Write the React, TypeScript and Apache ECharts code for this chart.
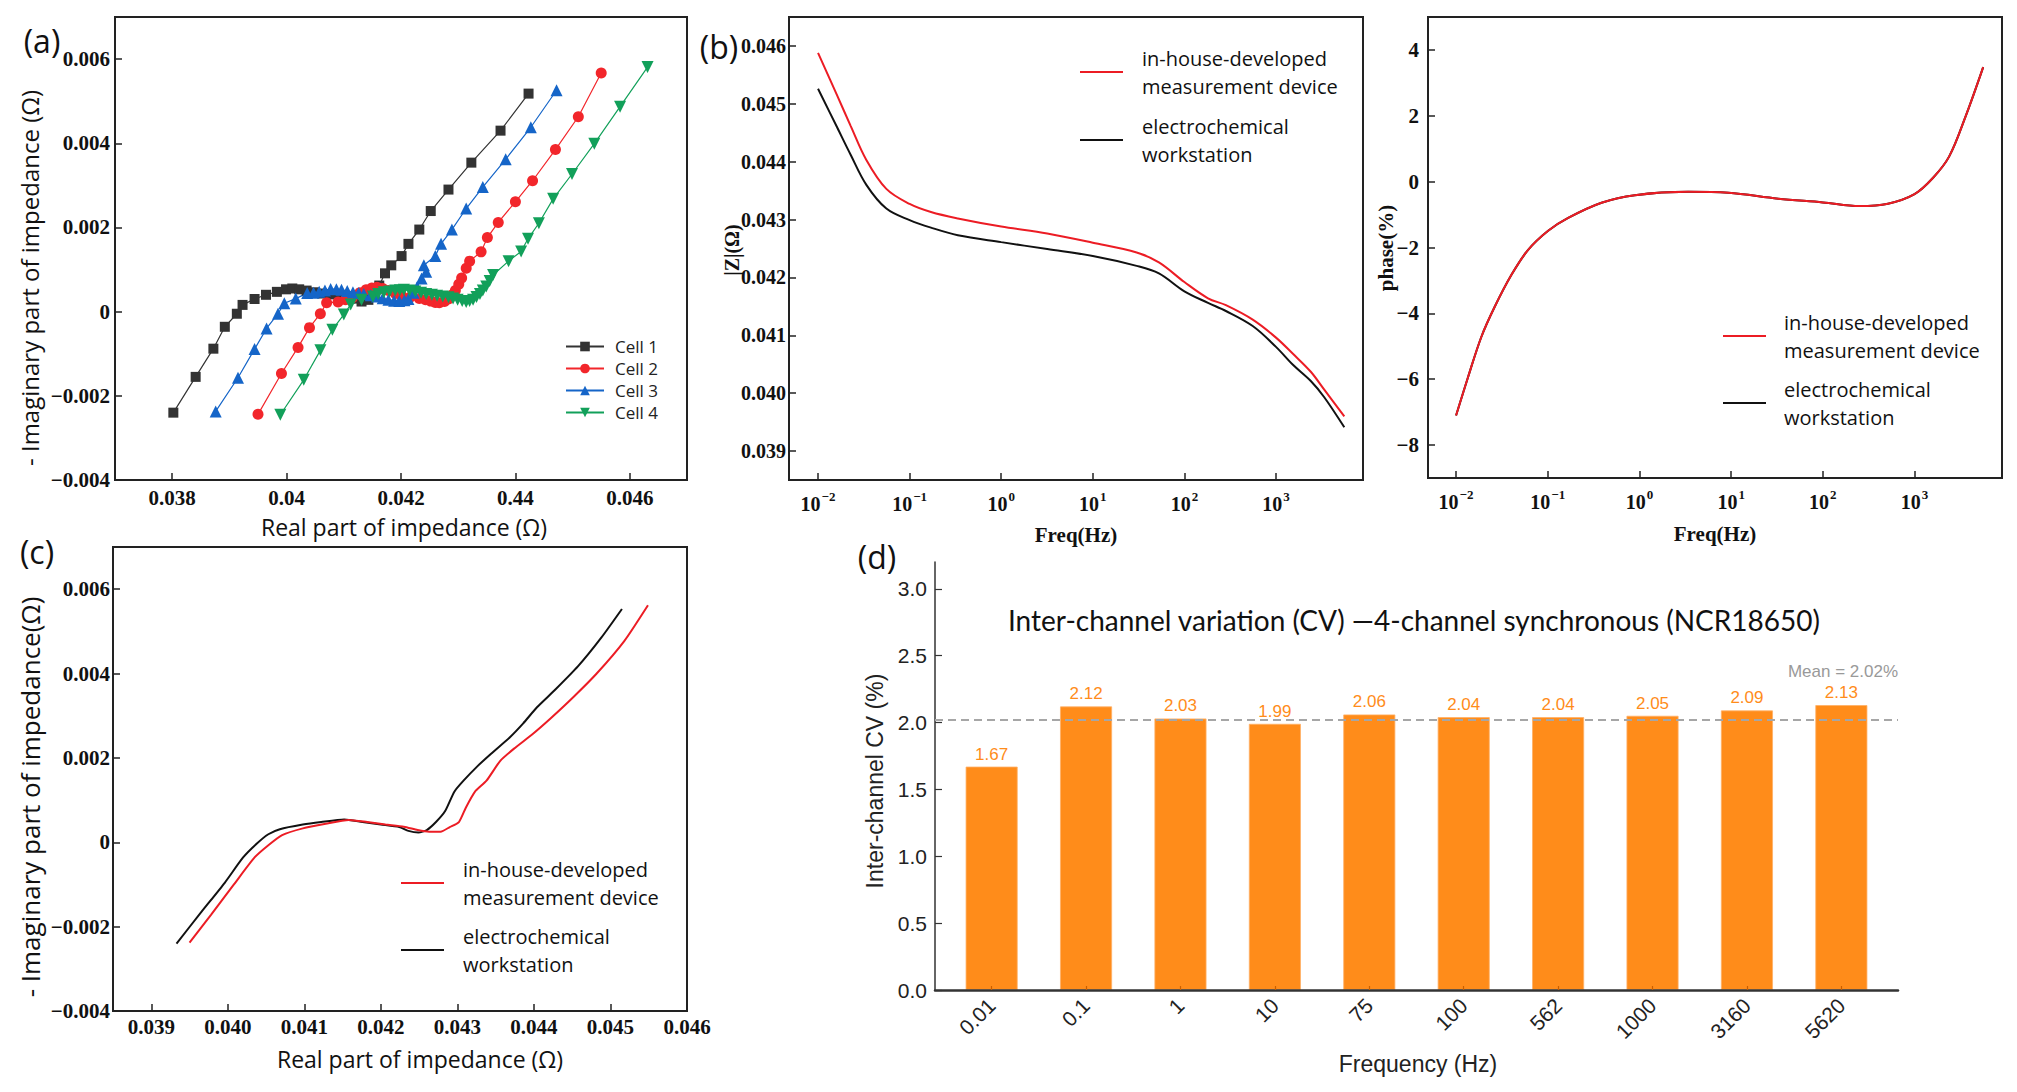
import React, { useEffect, useRef } from "react";
import * as echarts from "echarts";

// ---------- Panel (a): Nyquist plots of four cells ----------
const CELL_NAMES = ["Cell 1", "Cell 2", "Cell 3", "Cell 4"];
const CELL1 = [[0.03802,-0.0024],[0.03841,-0.00155],[0.03872,-0.00088],[0.03892,-0.00036],[0.03913,-0.00005],[0.03923,0.00016],[0.03944,0.0003],[0.03964,0.0004],[0.03983,0.00047],[0.03999,0.00053],[0.0401,0.00055],[0.04022,0.00053],[0.04035,0.0005],[0.04048,0.00046],[0.04062,0.00043],[0.04078,0.00041],[0.04092,0.00039],[0.04106,0.00036],[0.04118,0.00031],[0.04131,0.00024],[0.04143,0.00028],[0.04152,0.00042],[0.04162,0.00062],[0.04172,0.00091],[0.04183,0.0011],[0.04201,0.00132],[0.04213,0.00161],[0.04232,0.00195],[0.04252,0.00239],[0.04283,0.0029],[0.04323,0.00354],[0.04374,0.0043],[0.04423,0.00518]];
const CELL2 = [[0.0395,-0.00244],[0.03991,-0.00147],[0.0402,-0.00085],[0.0404,-0.00038],[0.04059,-0.00005],[0.0407,0.00021],[0.0409,0.00023],[0.04103,0.00028],[0.04115,0.00033],[0.04128,0.00045],[0.04139,0.00052],[0.04149,0.00056],[0.04158,0.00058],[0.04168,0.00055],[0.04178,0.0005],[0.0419,0.00043],[0.04201,0.00038],[0.04216,0.00034],[0.04232,0.00031],[0.04243,0.00028],[0.04252,0.00025],[0.0426,0.00022],[0.04267,0.00021],[0.04276,0.00024],[0.04283,0.0003],[0.0429,0.0004],[0.04295,0.0005],[0.04301,0.00065],[0.04306,0.0008],[0.04314,0.00103],[0.0432,0.0012],[0.0434,0.00142],[0.04351,0.00176],[0.0437,0.00212],[0.044,0.00261],[0.0443,0.00311],[0.0447,0.00385],[0.0451,0.00463],[0.0455,0.00567]];
const CELL3 = [[0.03876,-0.00237],[0.03915,-0.00157],[0.03944,-0.00089],[0.03965,-0.0004],[0.03985,-0.00005],[0.03996,0.0002],[0.04016,0.00031],[0.04036,0.00044],[0.04047,0.00045],[0.04057,0.00047],[0.04067,0.0005],[0.04077,0.00054],[0.04087,0.00053],[0.04096,0.00052],[0.04106,0.00049],[0.04116,0.00046],[0.04126,0.00044],[0.04135,0.00042],[0.04147,0.00039],[0.04158,0.00036],[0.04168,0.00032],[0.04178,0.00028],[0.04188,0.00026],[0.04197,0.00025],[0.04206,0.00027],[0.04213,0.0003],[0.04222,0.00045],[0.04228,0.00058],[0.04236,0.00079],[0.04244,0.00095],[0.0424,0.0011],[0.0426,0.00132],[0.0427,0.00161],[0.04289,0.00195],[0.04314,0.00245],[0.04343,0.00296],[0.04383,0.00362],[0.04427,0.00438],[0.04472,0.00526]];
const CELL4 = [[0.03989,-0.00245],[0.0403,-0.00162],[0.04059,-0.00092],[0.0408,-0.00043],[0.041,-0.00007],[0.04112,0.00017],[0.04131,0.00028],[0.04151,0.00036],[0.0416,0.00042],[0.0417,0.00046],[0.0418,0.00048],[0.0419,0.0005],[0.04198,0.00051],[0.04205,0.00052],[0.04215,0.0005],[0.04225,0.00048],[0.04235,0.00045],[0.04244,0.00042],[0.04254,0.0004],[0.04263,0.00038],[0.04273,0.00036],[0.04283,0.00034],[0.04291,0.00031],[0.04299,0.00028],[0.04307,0.00025],[0.04314,0.00023],[0.0432,0.00025],[0.04326,0.00028],[0.04332,0.00035],[0.04338,0.00042],[0.04343,0.0005],[0.04349,0.0006],[0.04355,0.00073],[0.04361,0.00087],[0.04388,0.0012],[0.0441,0.00143],[0.04422,0.00173],[0.04441,0.0021],[0.04466,0.00268],[0.04499,0.00327],[0.04538,0.00399],[0.04583,0.00487],[0.04631,0.00581]];
const A_X_TICKS = [0.038, 0.040, 0.042, 0.044, 0.046];
const A_X_LABELS = ["0.038", "0.04", "0.042", "0.44", "0.046"];
const A_Y_TICKS = [-0.004, -0.002, 0, 0.002, 0.004, 0.006];
const A_Y_LABELS = ["\u22120.004", "\u22120.002", "0", "0.002", "0.004", "0.006"];

// ---------- Panel (b): |Z| and phase vs frequency ----------
const SERIES_NAMES = ["in-house-developed measurement device", "electrochemical workstation"];
const FREQ_B = [0.01, 0.0162, 0.0227, 0.0337, 0.0557, 0.1, 0.171, 0.336, 1, 3.18, 10, 30.1, 52.7, 100, 181, 284, 557, 1000, 1531, 2399, 3365, 5570];
const ZMOD_DEVICE = [0.04588, 0.04514, 0.04462, 0.04403, 0.04353, 0.04327, 0.04313, 0.04302, 0.04288, 0.04276, 0.0426, 0.04243, 0.04226, 0.04192, 0.04164, 0.04152, 0.04127, 0.04096, 0.04068, 0.04037, 0.04006, 0.0396];
const ZMOD_WORKSTATION = [0.04526, 0.04459, 0.04412, 0.0436, 0.04319, 0.04299, 0.04286, 0.04273, 0.04261, 0.04249, 0.04237, 0.0422, 0.04207, 0.04176, 0.04156, 0.04142, 0.04116, 0.0408, 0.04049, 0.04021, 0.03993, 0.03941];
const B_Y_TICKS = [0.039, 0.040, 0.041, 0.042, 0.043, 0.044, 0.045, 0.046];
const LOG_TICKS = [-2, -1, 0, 1, 2, 3];
const FREQ_P = [0.01, 0.0135, 0.0189, 0.0264, 0.0402, 0.0611, 0.101, 0.167, 0.386, 0.891, 3.41, 9.33, 32.7, 100, 251, 513, 1000, 1585, 2382, 3581, 5610];
const PHASE_DEVICE = [-7.1, -5.94, -4.71, -3.8, -2.83, -2.07, -1.49, -1.1, -0.64, -0.41, -0.31, -0.34, -0.52, -0.63, -0.74, -0.67, -0.38, 0.11, 0.76, 1.96, 3.48];
const PHASE_WORKSTATION = [-7.1, -5.94, -4.71, -3.8, -2.83, -2.07, -1.49, -1.1, -0.64, -0.41, -0.31, -0.34, -0.52, -0.63, -0.74, -0.67, -0.38, 0.11, 0.76, 1.96, 3.48];
const PHASE_TICKS = [-8, -6, -4, -2, 0, 2, 4];

// ---------- Panel (c): Nyquist comparison ----------
const C_WORKSTATION = [[0.03933,-0.0024],[0.03966,-0.00164],[0.03996,-0.00096],[0.0402,-0.00036],[0.04038,-0.00003],[0.04053,0.00019],[0.04068,0.00031],[0.04098,0.00042],[0.04122,0.00048],[0.04152,0.00054],[0.04176,0.00048],[0.042,0.00042],[0.04224,0.00036],[0.04236,0.00027],[0.04249,0.00023],[0.0426,0.00029],[0.04272,0.00048],[0.04284,0.00074],[0.04296,0.0012],[0.04308,0.00146],[0.04326,0.0018],[0.04344,0.0021],[0.04368,0.00248],[0.04386,0.00282],[0.04404,0.0032],[0.04428,0.00362],[0.04458,0.00418],[0.04488,0.00485],[0.04515,0.00553]];
const C_DEVICE = [[0.0395,-0.00238],[0.03978,-0.00172],[0.04008,-0.001],[0.04035,-0.00036],[0.04053,-0.00007],[0.04071,0.00017],[0.04098,0.00033],[0.04128,0.00044],[0.04158,0.00053],[0.04182,0.00048],[0.04206,0.00042],[0.0423,0.00037],[0.04248,0.00029],[0.04263,0.00025],[0.04278,0.00025],[0.0429,0.00036],[0.04302,0.00048],[0.04311,0.00082],[0.04323,0.0012],[0.04338,0.00146],[0.04356,0.00193],[0.04374,0.00222],[0.04398,0.00256],[0.04422,0.00294],[0.04452,0.00345],[0.04482,0.004],[0.04518,0.00477],[0.04549,0.00562]];
const C_X_TICKS = [0.039, 0.040, 0.041, 0.042, 0.043, 0.044, 0.045, 0.046];

// ---------- Panel (d): inter-channel CV ----------
const CV_FREQS = ["0.01", "0.1", "1", "10", "75", "100", "562", "1000", "3160", "5620"];
const CV_VALUES = [1.67, 2.12, 2.03, 1.99, 2.06, 2.04, 2.04, 2.05, 2.09, 2.13];
const CV_MEAN = 2.02;
const D_Y_TICKS = [0, 0.5, 1.0, 1.5, 2.0, 2.5, 3.0];

const SERIF = "Liberation Serif";
const SANS = "Open Sans";
const ARIAL = "Liberation Sans";
const RED = "#ec1c24";
const BLACK = "#111111";

const minus = (s: string) => s.replace("-", "\u2212");
const pick = (ticks: number[], labels: string[]) => (v: number) => {
  const i = ticks.findIndex((t) => Math.abs(t - v) < 1e-9);
  return i >= 0 ? labels[i] : "";
};

function boxAxis(gridIndex: number, min: number, max: number, ticks: number[], formatter: any, o: any = {}) {
  return {
    type: "value",
    gridIndex,
    min,
    max,
    axisLine: { show: true, onZero: false, lineStyle: { color: "#222", width: 2 } },
    axisTick: { show: true, inside: true, length: 7, customValues: ticks, lineStyle: { color: "#222", width: 1.5 } },
    axisLabel: {
      customValues: ticks,
      formatter,
      fontFamily: SERIF,
      fontWeight: "bold",
      fontSize: o.fontSize || 21,
      color: "#111",
      margin: o.margin ?? 6,
      rich: o.rich,
    },
    splitLine: { show: false },
  };
}

const supRich = {
  b: { fontFamily: SERIF, fontWeight: "bold", fontSize: 20, color: "#111", lineHeight: 24, verticalAlign: "bottom" },
  s: { fontFamily: SERIF, fontWeight: "bold", fontSize: 13, color: "#111", lineHeight: 24, verticalAlign: "top", padding: [0, 0, 0, 1] },
};
const supFmt = (v: number) => `{b|10}{s|${minus(String(Math.round(v)))}}`;

function txt(text: string, x: number, y: number, o: any = {}) {
  return {
    type: "text",
    x,
    y,
    rotation: o.rot || 0,
    style: {
      text,
      fill: o.color || "#111",
      fontSize: o.size || 24,
      fontFamily: o.family || SANS,
      fontWeight: o.weight || "normal",
      textAlign: o.align || "center",
      textVerticalAlign: "middle",
      align: o.align || "center",
      verticalAlign: "middle",
      lineHeight: o.lh,
    },
  };
}
function seg(x1: number, x2: number, y: number, color: string) {
  return { type: "line", shape: { x1, y1: y, x2, y2: y }, style: { stroke: color, lineWidth: 2 } };
}
function legendPair(lx: number, tx: number, y1: number, y2: number) {
  return [
    seg(lx, lx + 43, y1, RED),
    txt("in-house-developed\nmeasurement device", tx, y1, { align: "left", size: 20, lh: 28 }),
    seg(lx, lx + 43, y2, BLACK),
    txt("electrochemical\nworkstation", tx, y2, { align: "left", size: 20, lh: 28 }),
  ];
}

function buildOption() {
  const cellColors = ["#333333", "#f2262b", "#1565c8", "#12a05a"];
  const cellSymbols = ["rect", "circle", "triangle", "triangle"];
  const cells = [CELL1, CELL2, CELL3, CELL4];
  const logMap = (freqs: number[], vals: number[]) => freqs.map((f, i) => [Math.log10(f), vals[i]]);
  const smoothLine = (name: string, xi: number, data: any[], color: string) => ({
    name,
    type: "line",
    xAxisIndex: xi,
    yAxisIndex: xi,
    data,
    smooth: 0.35,
    showSymbol: false,
    symbol: "none",
    lineStyle: { color, width: 2 },
    itemStyle: { color },
  });

  return {
    animation: false,
    backgroundColor: "#ffffff",
    grid: [
      { left: 115, top: 17, width: 572, height: 463, show: true, borderColor: "#222", borderWidth: 2 },
      { left: 789, top: 17, width: 574, height: 463, show: true, borderColor: "#222", borderWidth: 2 },
      { left: 1428, top: 17, width: 574, height: 461, show: true, borderColor: "#222", borderWidth: 2 },
      { left: 113, top: 547, width: 574, height: 464, show: true, borderColor: "#222", borderWidth: 2 },
      { left: 935, top: 562, width: 963, height: 428, show: false },
    ],
    xAxis: [
      boxAxis(0, 0.037, 0.047, A_X_TICKS, pick(A_X_TICKS, A_X_LABELS), { margin: 7 }),
      boxAxis(1, -2.317, 3.95, LOG_TICKS, supFmt, { margin: 10, rich: supRich, fontSize: 20 }),
      boxAxis(2, -2.306, 3.954, LOG_TICKS, supFmt, { margin: 10, rich: supRich, fontSize: 20 }),
      boxAxis(3, 0.0385, 0.046, C_X_TICKS, (v: number) => v.toFixed(3), { margin: 5 }),
      {
        type: "value",
        gridIndex: 4,
        min: -0.6,
        max: 9.6,
        z: 3,
        axisLine: { show: true, onZero: false, lineStyle: { color: "#333", width: 2.5 } },
        axisTick: { show: true, inside: true, length: 4, customValues: CV_FREQS.map((_, i) => i), lineStyle: { color: "#c85f00", width: 1.2 } },
        axisLabel: {
          customValues: CV_FREQS.map((_, i) => i),
          formatter: (v: number) => CV_FREQS[Math.round(v)] ?? "",
          rotate: 45,
          fontFamily: ARIAL,
          fontSize: 21,
          color: "#222",
          margin: 12,
        },
        splitLine: { show: false },
      },
    ],
    yAxis: [
      boxAxis(0, -0.004, 0.007, A_Y_TICKS, pick(A_Y_TICKS, A_Y_LABELS), { margin: 5 }),
      boxAxis(1, 0.0385, 0.0465, B_Y_TICKS, (v: number) => v.toFixed(3), { margin: 3, fontSize: 20 }),
      boxAxis(2, -9, 5, PHASE_TICKS, (v: number) => minus(String(v)), { margin: 9, fontSize: 21 }),
      boxAxis(3, -0.004, 0.007, A_Y_TICKS, pick(A_Y_TICKS, A_Y_LABELS), { margin: 3 }),
      {
        type: "value",
        gridIndex: 4,
        min: 0,
        max: 3.2,
        axisLine: { show: true, onZero: false, lineStyle: { color: "#333", width: 1.5 } },
        axisTick: { show: true, inside: true, length: 7, customValues: D_Y_TICKS, lineStyle: { color: "#333", width: 1.2 } },
        axisLabel: {
          customValues: D_Y_TICKS,
          formatter: (v: number) => v.toFixed(1),
          fontFamily: ARIAL,
          fontSize: 21,
          color: "#222",
          margin: 8,
        },
        splitLine: { show: false },
      },
    ],
    legend: [
      {
        data: CELL_NAMES,
        orient: "vertical",
        left: 560,
        top: 333,
        itemWidth: 38,
        itemHeight: 12,
        itemGap: 5,
        selectedMode: false,
        textStyle: { fontFamily: SANS, fontSize: 17, color: "#222", padding: [0, 0, 0, 6] },
      },
    ],
    series: [
      ...cells.map((data, k) => ({
        name: CELL_NAMES[k],
        type: "line",
        xAxisIndex: 0,
        yAxisIndex: 0,
        data,
        symbol: cellSymbols[k],
        symbolRotate: k === 3 ? 180 : 0,
        symbolSize: k === 0 ? 10 : k === 1 ? 11 : 12,
        lineStyle: { color: cellColors[k], width: 1.2 },
        itemStyle: { color: cellColors[k] },
      })),
      smoothLine(SERIES_NAMES[1], 1, logMap(FREQ_B, ZMOD_WORKSTATION), BLACK),
      smoothLine(SERIES_NAMES[0], 1, logMap(FREQ_B, ZMOD_DEVICE), RED),
      smoothLine(SERIES_NAMES[1], 2, logMap(FREQ_P, PHASE_WORKSTATION), BLACK),
      smoothLine(SERIES_NAMES[0], 2, logMap(FREQ_P, PHASE_DEVICE), RED),
      { ...smoothLine(SERIES_NAMES[1], 3, C_WORKSTATION, BLACK), smooth: 0.2 },
      { ...smoothLine(SERIES_NAMES[0], 3, C_DEVICE, RED), smooth: 0.2 },
      {
        name: "Inter-channel CV",
        type: "bar",
        xAxisIndex: 4,
        yAxisIndex: 4,
        data: CV_VALUES.map((v, i) => [i, v]),
        barWidth: 52,
        itemStyle: { color: "#ff8c1a", borderColor: "#ffb066", borderWidth: 0.8 },
        label: {
          show: true,
          position: "top",
          distance: 4,
          formatter: (p: any) => p.value[1].toFixed(2),
          fontFamily: ARIAL,
          fontSize: 17,
          color: "#ff8c1a",
        },
        markLine: {
          silent: true,
          symbol: "none",
          data: [{ yAxis: CV_MEAN }],
          lineStyle: { color: "#a6a6a6", type: [8, 5], width: 2 },
          label: { show: false },
        },
      },
    ],
    graphic: [
      // panel labels
      txt("(a)", 42, 40, { size: 32 }),
      txt("(b)", 719, 46, { size: 32 }),
      txt("(c)", 37, 551, { size: 32 }),
      txt("(d)", 877, 556, { size: 32 }),
      // panel (a)
      txt("- Imaginary part of impedance (\u03a9)", 29, 278, { rot: Math.PI / 2, size: 24 }),
      txt("Real part of impedance (\u03a9)", 404, 527, { size: 23 }),
      // panel (b)
      txt("|Z|(\u03a9)", 732, 250, { rot: Math.PI / 2, size: 20, family: SERIF, weight: "bold" }),
      txt("Freq(Hz)", 1076, 535, { size: 21, family: SERIF, weight: "bold" }),
      ...legendPair(1080, 1142, 72, 140),
      // panel (b) phase
      txt("phase(%)", 1386, 248, { rot: Math.PI / 2, size: 21, family: SERIF, weight: "bold" }),
      txt("Freq(Hz)", 1715, 534, { size: 21, family: SERIF, weight: "bold" }),
      ...legendPair(1723, 1784, 336, 403),
      // panel (c)
      txt("- Imaginary part of impedance(\u03a9)", 30, 797, { rot: Math.PI / 2, size: 26 }),
      txt("Real part of impedance (\u03a9)", 420, 1059, { size: 23 }),
      ...legendPair(401, 463, 883, 950),
      // panel (d)
      txt("Inter-channel variation (CV) \u20144-channel synchronous (NCR18650)", 1414, 620, { size: 28, family: "Lato" }),
      txt("Inter-channel CV (%)", 875, 781, { rot: Math.PI / 2, size: 23, family: ARIAL, color: "#222" }),
      txt("Frequency (Hz)", 1418, 1064, { size: 23, family: ARIAL, color: "#222" }),
      txt(`Mean = ${CV_MEAN.toFixed(2)}%`, 1898, 671, { size: 17, family: ARIAL, color: "#999", align: "right" }),
    ],
  };
}

export default function App() {
  const ref = useRef<HTMLDivElement>(null);
  useEffect(() => {
    document.body.style.margin = "0";
    const chart = echarts.init(ref.current!, null, { renderer: "svg", width: 2017, height: 1092 });
    chart.setOption(buildOption() as any);
    return () => chart.dispose();
  }, []);
  return <div ref={ref} style={{ position: "absolute", left: 0, top: 0, width: 2017, height: 1092, background: "#fff" }} />;
}
